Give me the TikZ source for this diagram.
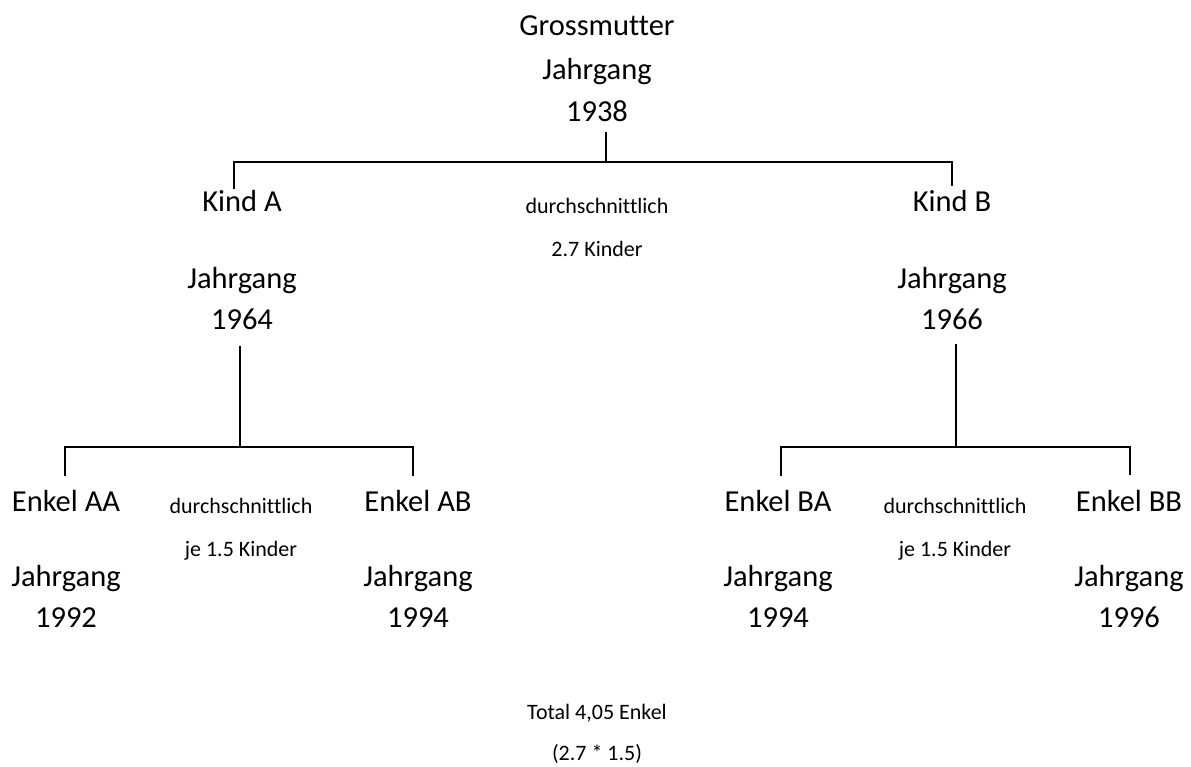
\documentclass[tikz,border=0pt]{standalone}
\usepackage{fontspec}
\setmainfont[RawFeature={-liga;-clig;-dlig;-calt;-rlig}]{Carlito}
\begin{document}
\begin{tikzpicture}[x=1pt,y=-1pt,
  big/.style={inner sep=0pt,anchor=base,font=\fontsize{30.5}{36}\selectfont},
  small/.style={inner sep=0pt,anchor=base,font=\fontsize{22}{26}\selectfont},
  conn/.style={line width=1.5pt,line cap=rect}]
\useasboundingbox (0,0) rectangle (1191,767);
% Grandmother
\node[big] (gm1) at (597,36) {Grossmutter};
\node[big] (gm2) at (597,80) {Jahrgang};
\node[big] (gm3) at (597,122) {1938};
% Children
\node[big] (ka1) at (242,212) {Kind A};
\node[big] (ka2) at (242,288) {Jahrgang};
\node[big] (ka3) at (242,329) {1964};
\node[big] (kb1) at (952,212) {Kind B};
\node[big] (kb2) at (952,288) {Jahrgang};
\node[big] (kb3) at (952,329) {1966};
\node[small] (d1) at (597,214) {durchschnittlich};
\node[small] (d2) at (597,257) {2.7 Kinder};
% Grandchildren A
\node[big] (aa1) at (66,511) {Enkel AA};
\node[big] (aa2) at (66,586) {Jahrgang};
\node[big] (aa3) at (66,627) {1992};
\node[big] (ab1) at (418,511) {Enkel AB};
\node[big] (ab2) at (418,586) {Jahrgang};
\node[big] (ab3) at (418,627) {1994};
\node[small] (da1) at (241,513) {durchschnittlich};
\node[small] (da2) at (241,556) {je 1.5 Kinder};
% Grandchildren B
\node[big] (ba1) at (778,511) {Enkel BA};
\node[big] (ba2) at (778,586) {Jahrgang};
\node[big] (ba3) at (778,627) {1994};
\node[big] (bb1) at (1129,511) {Enkel BB};
\node[big] (bb2) at (1129,586) {Jahrgang};
\node[big] (bb3) at (1129,627) {1996};
\node[small] (db1) at (955,513) {durchschnittlich};
\node[small] (db2) at (955,556) {je 1.5 Kinder};
% Total
\node[small] (t1) at (597,719) {Total 4,05 Enkel};
\node[small] (t2) at (597,760) {(2.7 * 1.5)};
% connector coordinates
\coordinate (gmT) at (606,133);
\coordinate (gmJ) at (606,162);
\coordinate (kaL) at (234,162);
\coordinate (kaE) at (234,188);
\coordinate (kbL) at (952,162);
\coordinate (kbE) at (952,185);
\coordinate (aT) at (240,347);
\coordinate (aJ) at (240,447);
\coordinate (aaL) at (65,447);
\coordinate (aaE) at (65,475);
\coordinate (abL) at (413,447);
\coordinate (abE) at (413,475);
\coordinate (bT) at (956,345);
\coordinate (bJ) at (956,447);
\coordinate (baL) at (781,447);
\coordinate (baE) at (781,475);
\coordinate (bbL) at (1130,447);
\coordinate (bbE) at (1130,474);
\draw[conn] (gmT) -- (gmJ);
\draw[conn] (kaE) -- (kaL) -- (kbL) -- (kbE);
\draw[conn] (aT) -- (aJ);
\draw[conn] (aaE) -- (aaL) -- (abL) -- (abE);
\draw[conn] (bT) -- (bJ);
\draw[conn] (baE) -- (baL) -- (bbL) -- (bbE);
\end{tikzpicture}
\end{document}
